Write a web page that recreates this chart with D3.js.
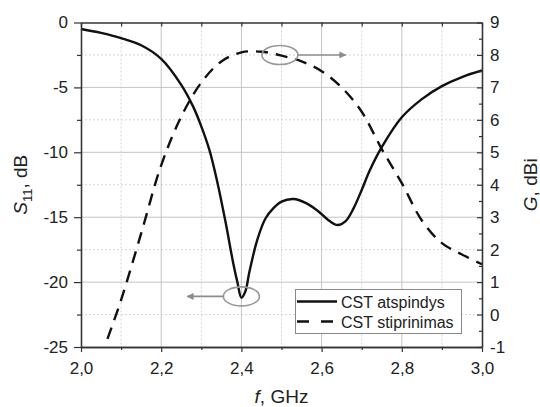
<!DOCTYPE html>
<html><head><meta charset="utf-8">
<script src="https://cdn.jsdelivr.net/npm/d3@7"></script>
<style>
body{margin:0;background:#fff;}
svg{display:block;font-family:"Liberation Sans",Arial,sans-serif;}
</style></head><body>
<svg id="c" width="540" height="407"></svg>
<script>
// S11 (solid, left axis)
const freqS = [2.00,2.05,2.10,2.15,2.20,2.25,2.28,2.30,2.32,2.34,2.36,2.38,2.39,2.40,2.41,2.42,2.44,2.46,2.48,2.50,2.53,2.56,2.59,2.62,2.64,2.66,2.68,2.70,2.72,2.75,2.80,2.85,2.90,2.95,3.00];
const s11   = [-0.5,-0.8,-1.2,-1.75,-2.8,-4.8,-6.5,-8.0,-9.8,-12.3,-15.3,-18.6,-20.0,-21.2,-20.7,-19.2,-16.7,-15.1,-14.3,-13.8,-13.6,-13.9,-14.5,-15.3,-15.6,-15.3,-14.3,-12.9,-11.4,-9.6,-7.3,-5.9,-4.9,-4.2,-3.7];
// Gain (dashed, right axis)
const freqG = [2.066,2.10,2.15,2.20,2.25,2.30,2.35,2.40,2.45,2.50,2.55,2.60,2.65,2.70,2.75,2.80,2.85,2.90,2.95,3.00];
const gain  = [-0.75,0.45,2.5,4.6,6.1,7.15,7.8,8.08,8.1,7.98,7.8,7.5,7.0,6.25,5.1,4.05,2.9,2.2,1.85,1.55];
const xTicks = [2.0,2.2,2.4,2.6,2.8,3.0];
const xMinor = [2.1,2.3,2.5,2.7,2.9];
const yLTicks = [0,-5,-10,-15,-20,-25];
const yLMinor = [-2.5,-7.5,-12.5,-17.5,-22.5];
const yRTicks = [9,8,7,6,5,4,3,2,1,0,-1];
const yRMinor = [8.5,7.5,6.5,5.5,4.5,3.5,2.5,1.5,0.5,-0.5];
const seriesNames = ["CST atspindys","CST stiprinimas"];
// annotation markers (data units): ellipse centre and arrow end
const markS = {f:2.40, v:-21.1, arrowTo:2.265};
const markG = {f:2.496, v:8.0, arrowTo:2.66};

const L=81,R=482,T=22.5,B=347;
const x = d3.scaleLinear().domain([2,3]).range([L,R]);
const yL = d3.scaleLinear().domain([-25,0]).range([B,T]);
const yR = d3.scaleLinear().domain([-1,9]).range([B,T]);
const svg = d3.select("#c");
const fmt = d => d3.format(".1f")(d).replace(".",",");

// grid
const g = svg.append("g");
g.selectAll(".gxm").data(xMinor).join("line").attr("x1",d=>x(d)).attr("x2",d=>x(d)).attr("y1",T).attr("y2",B)
  .attr("stroke","#d4d4d4").attr("stroke-width",1).attr("stroke-dasharray","2,2");
g.selectAll(".gym").data(yLMinor).join("line").attr("x1",L).attr("x2",R).attr("y1",d=>yL(d)).attr("y2",d=>yL(d))
  .attr("stroke","#d4d4d4").attr("stroke-width",1).attr("stroke-dasharray","2,2");
g.selectAll(".gx").data(xTicks.slice(1,-1)).join("line").attr("x1",d=>x(d)).attr("x2",d=>x(d)).attr("y1",T).attr("y2",B)
  .attr("stroke","#c4c4c4").attr("stroke-width",1);
g.selectAll(".gy").data(yLTicks.slice(1,-1)).join("line").attr("x1",L).attr("x2",R).attr("y1",d=>yL(d)).attr("y2",d=>yL(d))
  .attr("stroke","#c4c4c4").attr("stroke-width",1);

// curves
const lineS = d3.line().x(d=>x(d[0])).y(d=>yL(d[1])).curve(d3.curveCatmullRom.alpha(0.5));
const lineG = d3.line().x(d=>x(d[0])).y(d=>yR(d[1])).curve(d3.curveCatmullRom.alpha(0.5));
svg.append("path").datum(freqG.map((f,i)=>[f,gain[i]])).attr("d",lineG)
  .attr("fill","none").attr("stroke","#111").attr("stroke-width",2.4).attr("stroke-dasharray","12,8");
svg.append("path").datum(freqS.map((f,i)=>[f,s11[i]])).attr("d",lineS)
  .attr("fill","none").attr("stroke","#111").attr("stroke-width",2.4);

// axes
const axStyle = sel => { sel.selectAll("path").attr("stroke","#333").attr("stroke-width",1.3);
  sel.selectAll("line").attr("stroke","#333").attr("stroke-width",1.2);
  sel.selectAll("text").attr("fill","#222").attr("font-size",17).attr("font-family","'Liberation Sans',Arial,sans-serif"); };
svg.append("g").attr("transform",`translate(0,${B})`)
  .call(d3.axisBottom(x).tickValues(xTicks).tickSize(5).tickSizeOuter(0).tickPadding(10).tickFormat(fmt)).call(axStyle);
svg.append("g").attr("transform",`translate(0,${B})`)
  .call(d3.axisBottom(x).tickValues(xMinor).tickSize(3).tickSizeOuter(0).tickFormat("")).call(axStyle);
svg.append("g").attr("transform",`translate(0,${T})`)
  .call(d3.axisBottom(x).tickValues(xTicks.concat(xMinor)).tickSize(4).tickSizeOuter(0).tickFormat("")).call(axStyle);
svg.append("g").attr("transform",`translate(${L},0)`)
  .call(d3.axisLeft(yL).tickValues(yLTicks).tickSize(7).tickSizeOuter(0).tickPadding(6).tickFormat(d3.format("d"))).call(axStyle);
svg.append("g").attr("transform",`translate(${L},0)`)
  .call(d3.axisLeft(yL).tickValues(yLMinor).tickSize(4).tickSizeOuter(0).tickFormat("")).call(axStyle);
svg.append("g").attr("transform",`translate(${R},0)`)
  .call(d3.axisRight(yR).tickValues(yRTicks).tickSizeInner(-5).tickSizeOuter(0).tickPadding(8).tickFormat(d3.format("d"))).call(axStyle);
svg.append("g").attr("transform",`translate(${R},0)`)
  .call(d3.axisRight(yR).tickValues(yRMinor).tickSizeInner(-3).tickSizeOuter(0).tickFormat("")).call(axStyle);
svg.selectAll("text").filter(function(){return this.textContent.startsWith("-")||this.textContent.startsWith("−");})
  .text(function(){return this.textContent.replace("−","-");});

// axis titles
svg.append("text").attr("x",(L+R)/2).attr("y",403).attr("text-anchor","middle").attr("font-size",19).attr("fill","#222")
  .html('<tspan font-style="italic">f</tspan>, GHz');
const tl = svg.append("text").attr("transform",`translate(27,${(T+B)/2}) rotate(-90)`).attr("text-anchor","middle")
  .attr("font-size",19).attr("fill","#222");
tl.append("tspan").attr("font-style","italic").text("S");
tl.append("tspan").attr("font-size",13).attr("dy",5).text("11");
tl.append("tspan").attr("dy",-5).text(", dB");
svg.append("text").attr("transform",`translate(537,${(T+B)/2}) rotate(-90)`).attr("text-anchor","middle")
  .attr("font-size",19).attr("fill","#222").html('<tspan font-style="italic">G</tspan>, dBi');

// annotations
const defs = svg.append("defs");
defs.append("marker").attr("id","ah").attr("viewBox","0 0 10 10").attr("refX",9).attr("refY",5)
  .attr("markerWidth",9).attr("markerHeight",7).attr("markerUnits","userSpaceOnUse").attr("orient","auto")
  .append("path").attr("d","M0,0L10,5L0,10Z").attr("fill","#8c8c8c");
[[markS,yL,-1],[markG,yR,1]].forEach(([m,ys,dir])=>{
  const cx=x(m.f), cy=ys(m.v);
  svg.append("ellipse").attr("cx",cx).attr("cy",cy).attr("rx",18).attr("ry",9.5)
    .attr("fill","none").attr("stroke","#999").attr("stroke-width",1.6);
  svg.append("line").attr("x1",cx+dir*18).attr("x2",x(m.arrowTo)).attr("y1",cy).attr("y2",cy)
    .attr("stroke","#8c8c8c").attr("stroke-width",1.6).attr("marker-end","url(#ah)");
});

// legend
const lg = svg.append("g");
lg.append("rect").attr("x",295.5).attr("y",289.5).attr("width",166).attr("height",44)
  .attr("fill","#fff").attr("stroke","#888").attr("stroke-width",1);
seriesNames.forEach((n,i)=>{
  const yy = 301.5+i*20;
  lg.append("line").attr("x1",297).attr("x2",337).attr("y1",yy).attr("y2",yy).attr("stroke","#111").attr("stroke-width",2.4)
    .attr("stroke-dasharray", i===1?"12,12":null);
  lg.append("text").attr("x",341).attr("y",yy+6).attr("font-size",16).attr("fill","#222").text(n);
});
</script></body></html>
